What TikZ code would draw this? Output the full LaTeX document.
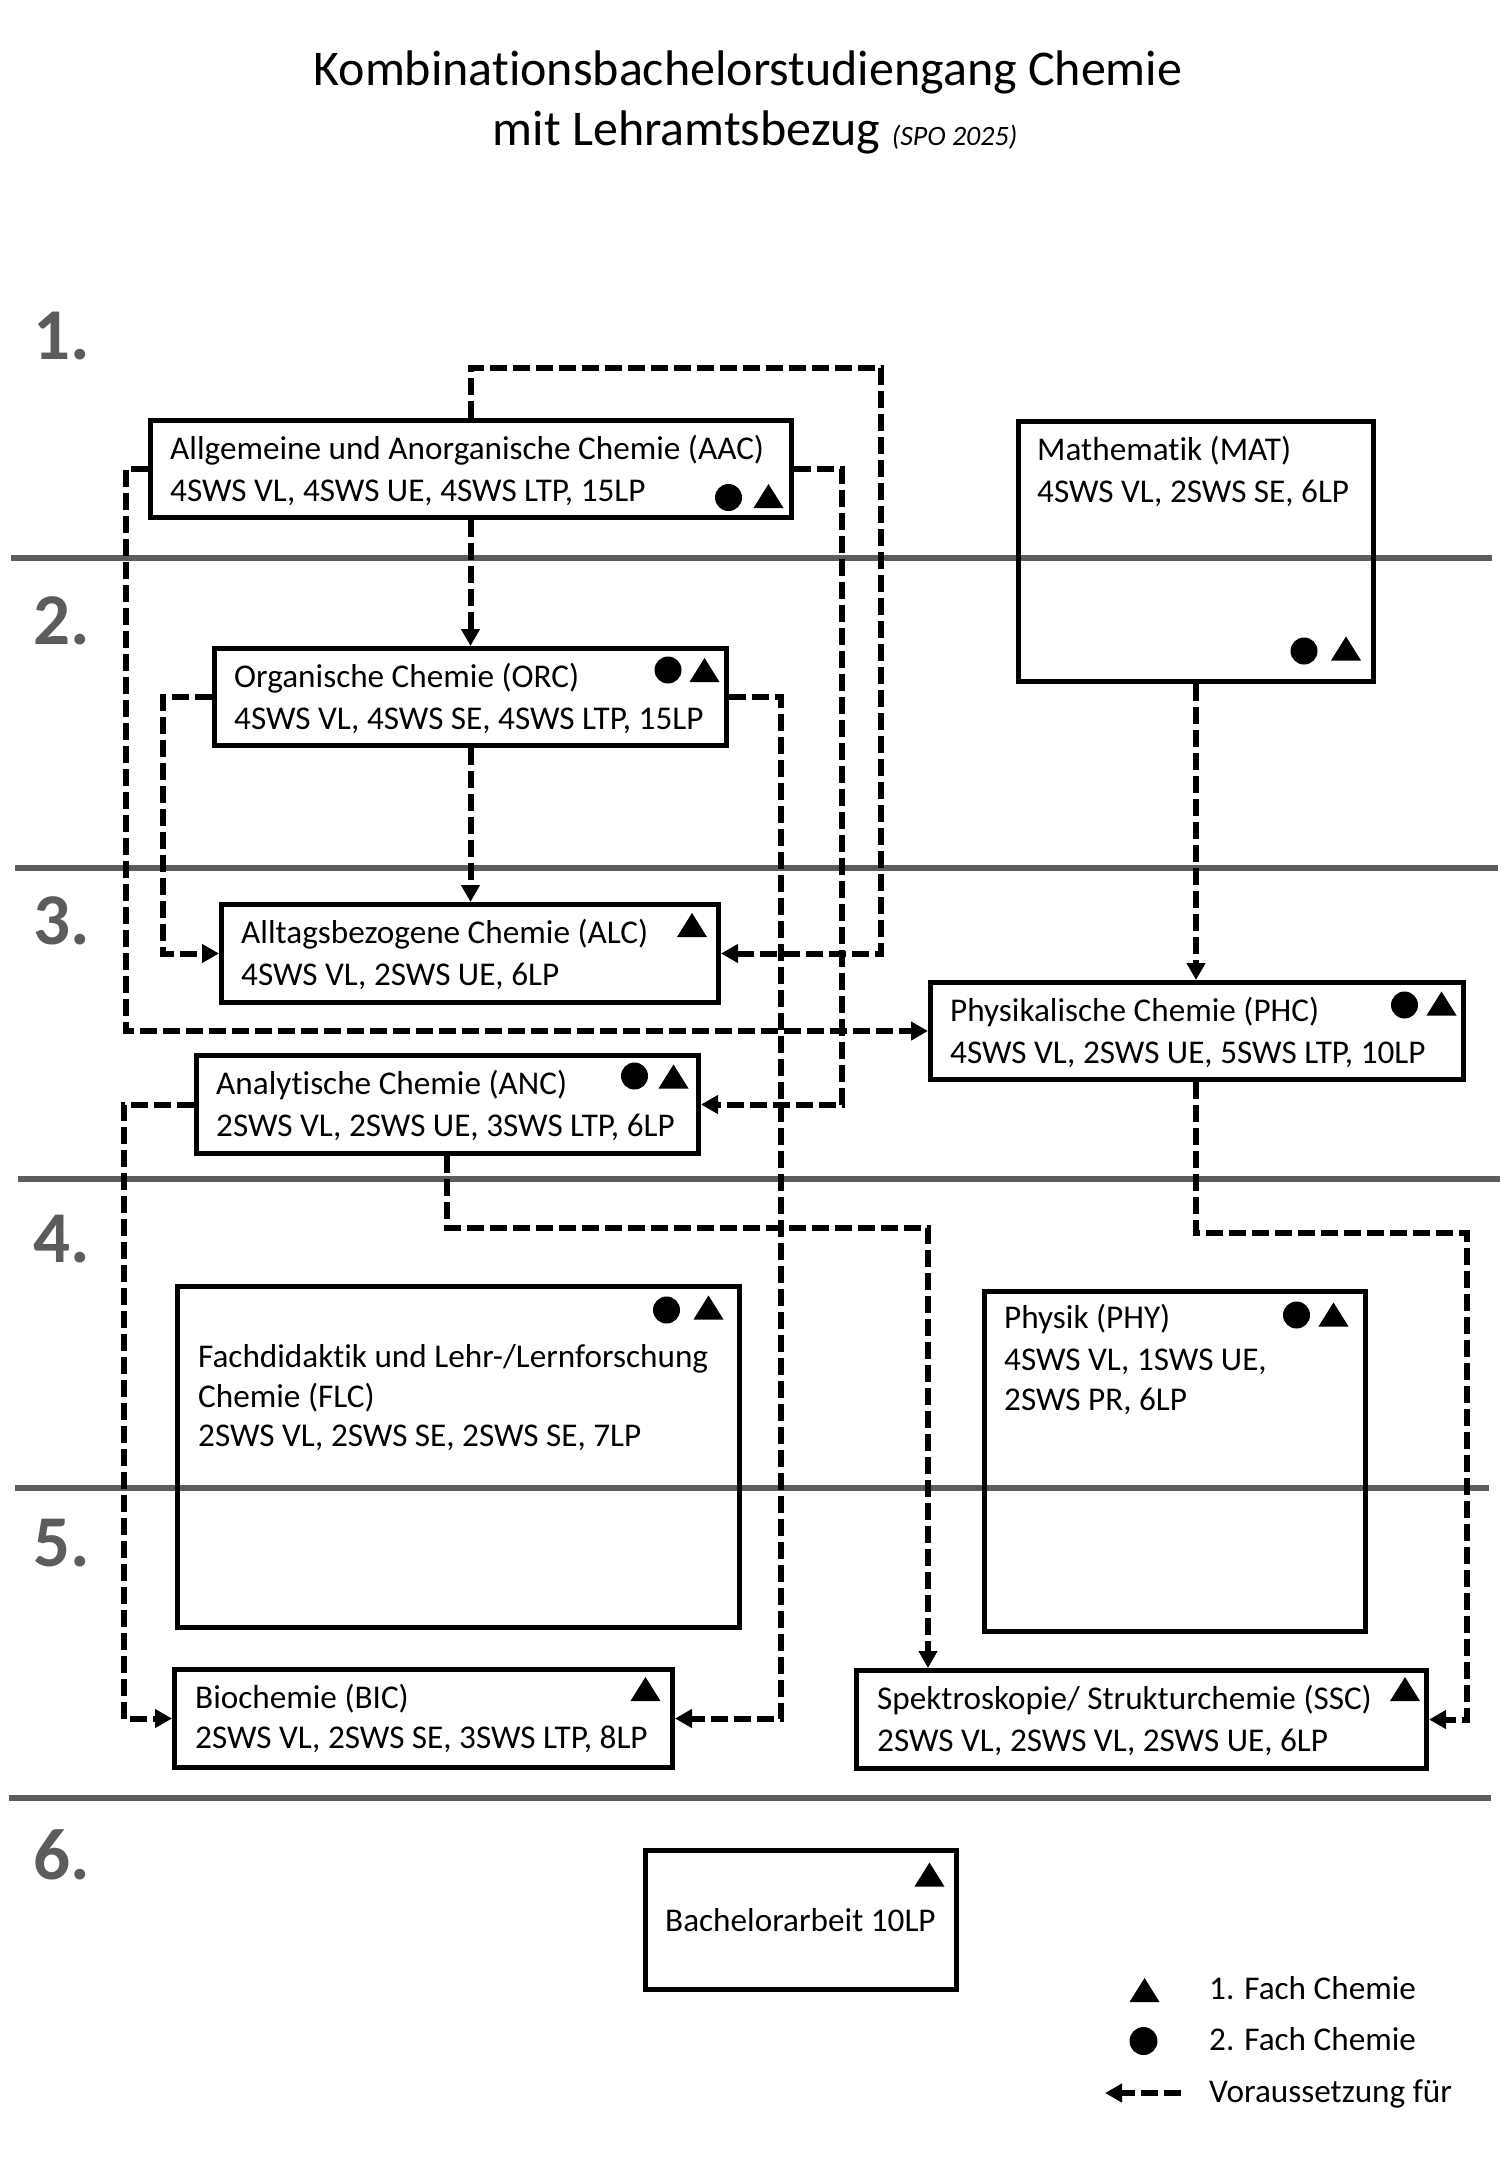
\documentclass[tikz,border=0pt]{standalone}
\usepackage{fontspec}
\setmainfont{Carlito}[Ligatures={NoCommon},RawFeature={-calt;-clig}]
\usetikzlibrary{arrows.meta,calc}
\definecolor{semgray}{HTML}{5C5C5C}
\newcommand\punkt[2]{\fill (#1,#2) circle[radius=13.5pt];}
\newcommand\dreieck[2]{\fill (#1-15,#2+12) -- (#1+15,#2+12) -- (#1,#2-12) -- cycle;}
\begin{document}
\begin{tikzpicture}[x=1pt,y=-1pt,
  box/.style={draw, line width=5pt, inner sep=0pt, anchor=north west},
  txt/.style={anchor=base west, inner sep=0pt, font=\fontsize{33.2}{40}\selectfont},
  sem/.style={anchor=base west, inner sep=0pt, text=semgray, font=\fontsize{73}{80}\selectfont\bfseries},
  sepline/.style={draw=semgray, line width=5.5pt},
  conn/.style={line width=6pt, dash pattern=on 17pt off 6pt, -{Triangle[length=17pt,width=18pt]}},
  ttl/.style={anchor=base, inner sep=0pt, font=\fontsize{50}{60}\selectfont}
]
\useasboundingbox (0,0) rectangle (1500,2167);

% title
\node[ttl] (title1) at (748,86) {Kombinationsbachelorstudiengang Chemie};
\node[ttl] (title2) at (755,146) {mit Lehramtsbezug {\fontsize{28}{32}\selectfont\itshape (SPO 2025)}};

% semester separators
\draw[sepline] (11,558) -- (1492,558);
\draw[sepline] (15,868) -- (1498,868);
\draw[sepline] (18,1179) -- (1500,1179);
\draw[sepline] (15,1488) -- (1489,1488);
\draw[sepline] (9,1798) -- (1491,1798);

% semester numbers
\node[sem] (s1) at (33,359) {1.};
\node[sem] (s2) at (33,644) {2.};
\node[sem] (s3) at (33,944) {3.};
\node[sem] (s4) at (33,1262) {4.};
\node[sem] (s5) at (33,1566) {5.};
\node[sem] (s6) at (33,1879) {6.};

% boxes
\node[box, minimum width=641pt, minimum height=97pt] (aac) at (148,418) {};
\node[box, minimum width=355pt, minimum height=260pt] (mat) at (1016,419) {};
\node[box, minimum width=512pt, minimum height=97pt] (orc) at (212,646) {};
\node[box, minimum width=497pt, minimum height=98pt] (alc) at (219,902) {};
\node[box, minimum width=533pt, minimum height=97pt] (phc) at (928,980) {};
\node[box, minimum width=502pt, minimum height=98pt] (anc) at (194,1053) {};
\node[box, minimum width=562pt, minimum height=341pt] (flc) at (175,1284) {};
\node[box, minimum width=381pt, minimum height=340pt] (phy) at (982,1289) {};
\node[box, minimum width=498pt, minimum height=98pt] (bic) at (172,1667) {};
\node[box, minimum width=570pt, minimum height=98pt] (ssc) at (854,1668) {};
\node[box, minimum width=311pt, minimum height=139pt] (ba) at (643,1848) {};

% box texts
\node[txt] (aac1) at (170,459) {Allgemeine und Anorganische Chemie (AAC)};
\node[txt] (aac2) at (170,501) {4SWS VL, 4SWS UE, 4SWS LTP, 15LP};
\node[txt] (mat1) at (1037,460) {Mathematik (MAT)};
\node[txt] (mat2) at (1037,502) {4SWS VL, 2SWS SE, 6LP};
\node[txt] (orc1) at (234,687) {Organische Chemie (ORC)};
\node[txt] (orc2) at (234,729) {4SWS VL, 4SWS SE, 4SWS LTP, 15LP};
\node[txt] (alc1) at (241,943) {Alltagsbezogene Chemie (ALC)};
\node[txt] (alc2) at (241,985) {4SWS VL, 2SWS UE, 6LP};
\node[txt] (phc1) at (950,1021) {Physikalische Chemie (PHC)};
\node[txt] (phc2) at (950,1063) {4SWS VL, 2SWS UE, 5SWS LTP, 10LP};
\node[txt] (anc1) at (216,1094) {Analytische Chemie (ANC)};
\node[txt] (anc2) at (216,1136) {2SWS VL, 2SWS UE, 3SWS LTP, 6LP};
\node[txt] (flc1) at (198,1367) {Fachdidaktik und Lehr-/Lernforschung};
\node[txt] (flc2) at (198,1407) {Chemie (FLC)};
\node[txt] (flc3) at (198,1446) {2SWS VL, 2SWS SE, 2SWS SE, 7LP};
\node[txt] (phy1) at (1004,1328) {Physik (PHY)};
\node[txt] (phy2) at (1004,1370) {4SWS VL, 1SWS UE,};
\node[txt] (phy3) at (1004,1410) {2SWS PR, 6LP};
\node[txt] (bic1) at (195,1708) {Biochemie (BIC)};
\node[txt] (bic2) at (195,1748) {2SWS VL, 2SWS SE, 3SWS LTP, 8LP};
\node[txt] (ssc1) at (877,1709) {Spektroskopie/ Strukturchemie (SSC)};
\node[txt] (ssc2) at (877,1751) {2SWS VL, 2SWS VL, 2SWS UE, 6LP};
\node[txt] (ba1) at (665,1931) {Bachelorarbeit 10LP};

% symbols
\punkt{728.5}{497.5} \dreieck{768.5}{496}
\punkt{668}{670} \dreieck{704.5}{670}
\punkt{1304}{651} \dreieck{1346}{648.5}
\punkt{1404.5}{1005} \dreieck{1441.5}{1003.5}
\dreieck{692}{925}
\punkt{634.5}{1076} \dreieck{673.5}{1076.5}
\punkt{666.5}{1310} \dreieck{708.5}{1307.5}
\dreieck{645.5}{1689}
\punkt{1296.5}{1315} \dreieck{1333.5}{1314.5}
\dreieck{1405}{1689}
\dreieck{929.5}{1874.5}

% connectors
\coordinate (k1a) at (471,368);
\coordinate (k1b) at (881,368);
\draw[conn] (aac.north -| k1a) -- (k1a) -- (k1b) -- (k1b |- alc.east) -- (alc.east);
\coordinate (k2) at (842,0);
\draw[conn] (aac.east) -- (aac.east -| k2) -- (k2 |- anc.east) -- (anc.east);
\coordinate (k3) at (126,0);
\draw[conn] (aac.west) -- (aac.west -| k3) -- (k3 |- phc.west) -- (phc.west);
\draw[conn] (aac.south -| orc.north) -- (orc.north);
\draw[conn] (orc.south) -- (orc.south |- alc.north);
\coordinate (k6) at (163,0);
\draw[conn] (orc.west) -- (orc.west -| k6) -- (k6 |- alc.west) -- (alc.west);
\coordinate (k7) at (781,0);
\draw[conn] (orc.east) -- (orc.east -| k7) -- (k7 |- bic.east) -- (bic.east);
\draw[conn] (mat.south) -- (mat.south |- phc.north);
\coordinate (k9a) at (1196,1233);
\coordinate (k9b) at (1467,1233);
\draw[conn] (phc.south -| k9a) -- (k9a) -- (k9b) -- (k9b |- ssc.east) -- (ssc.east);
\coordinate (k10a) at (447,1228);
\coordinate (k10b) at (928,1228);
\draw[conn] (anc.south -| k10a) -- (k10a) -- (k10b) -- (k10b |- ssc.north);
\coordinate (k11) at (124,0);
\draw[conn] (anc.west) -- (anc.west -| k11) -- (k11 |- bic.west) -- (bic.west);

% legend
\dreieck{1144.5}{1990}
\fill (1143.5,2041) circle[radius=14pt];
\coordinate (lg1) at (1181,2093);
\coordinate (lg2) at (1105,2093);
\draw[conn] (lg1) -- (lg2);
\node[txt] (lt1) at (1209,1999) {1. Fach Chemie};
\node[txt] (lt2) at (1209,2050) {2. Fach Chemie};
\node[txt] (lt3) at (1209,2102) {Voraussetzung für};
\end{tikzpicture}
\end{document}
